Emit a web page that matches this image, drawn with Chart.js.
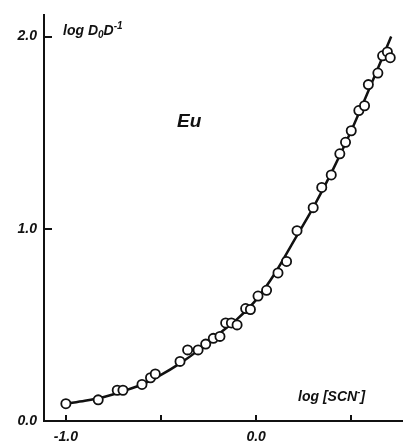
<!DOCTYPE html>
<html>
<head>
<meta charset="utf-8">
<script src="https://cdn.jsdelivr.net/npm/chart.js@4.4.1/dist/chart.umd.min.js"></script>
<style>
  html, body { margin: 0; padding: 0; background: #fff; }
  canvas { display: block; }
</style>
</head>
<body>
<canvas id="eu" width="409" height="444"></canvas>
<script>
// measured points, log[SCN-] vs log D0/D
const logSCN = [-1.0, -0.83, -0.73, -0.70, -0.60, -0.555, -0.53, -0.40, -0.36, -0.305,
  -0.265, -0.225, -0.19, -0.16, -0.13, -0.10, -0.055, -0.03, 0.01, 0.055,
  0.115, 0.16, 0.215, 0.30, 0.345, 0.395, 0.44, 0.47, 0.50, 0.54,
  0.57, 0.59, 0.64, 0.665, 0.69, 0.705];
const logDD = [0.09, 0.11, 0.16, 0.16, 0.19, 0.225, 0.245, 0.31, 0.37, 0.37,
  0.40, 0.43, 0.44, 0.51, 0.51, 0.50, 0.585, 0.58, 0.65, 0.68,
  0.77, 0.83, 0.99, 1.11, 1.215, 1.28, 1.39, 1.45, 1.51, 1.615,
  1.64, 1.75, 1.81, 1.90, 1.92, 1.89];

// fitted curve
const curveX = [-1.0, -0.9, -0.8, -0.7, -0.6, -0.5, -0.4, -0.3, -0.2, -0.1,
  0.0, 0.1, 0.2, 0.3, 0.4, 0.5, 0.6, 0.71];
const curveY = [0.09, 0.105, 0.125, 0.155, 0.19, 0.24, 0.30, 0.37, 0.45, 0.53,
  0.63, 0.77, 0.94, 1.11, 1.30, 1.51, 1.74, 2.0];

const xTicks = [-1.0, -0.5, 0.0, 0.5];
const xLabeled = [-1.0, 0.0];
const yTicks = [0.0, 1.0, 2.0];

const ink = '#111';
const tickFont = { family: '"Liberation Sans", Arial, sans-serif', size: 14, style: 'italic', weight: 'bold' };

function drawParts(ctx, x, y, parts) {
  parts.forEach(p => {
    ctx.font = 'italic bold ' + p.size + 'px "Liberation Sans", Arial, sans-serif';
    ctx.fillText(p.t, x, y + (p.dy || 0));
    x += ctx.measureText(p.t).width + (p.gap || 0);
  });
}

// ticks pointing into the plot, plus the labels inside the frame
const inside = {
  id: 'inside',
  afterDraw(chart) {
    const { ctx, chartArea: a, scales: { x, y } } = chart;
    ctx.save();
    ctx.strokeStyle = ink;
    ctx.lineWidth = 2;
    ctx.beginPath();
    xTicks.forEach(v => {
      const px = Math.round(x.getPixelForValue(v));
      ctx.moveTo(px, a.bottom);
      ctx.lineTo(px, a.bottom - 6);
    });
    yTicks.forEach(v => {
      if (v === 0) return;
      const py = Math.round(y.getPixelForValue(v));
      ctx.moveTo(a.left, py);
      ctx.lineTo(a.left + 8, py);
    });
    ctx.stroke();

    ctx.fillStyle = ink;
    ctx.textBaseline = 'alphabetic';
    ctx.textAlign = 'left';
    drawParts(ctx, 63, 35, [
      { t: 'log D', size: 14 },
      { t: '0', size: 10, dy: 3 },
      { t: 'D', size: 14 },
      { t: '-1', size: 10, dy: -6 }
    ]);
    drawParts(ctx, 177, 127, [{ t: 'Eu', size: 19 }]);
    drawParts(ctx, 298, 401, [
      { t: 'log [SCN', size: 14 },
      { t: '-', size: 10, dy: -6 },
      { t: ']', size: 14 }
    ]);
    ctx.restore();
  }
};

new Chart(document.getElementById('eu'), {
  type: 'scatter',
  data: {
    datasets: [{
      label: 'Eu',
      data: logSCN.map((v, i) => ({ x: v, y: logDD[i] })),
      showLine: false,
      pointRadius: 4.6,
      pointBorderWidth: 1.8,
      pointBackgroundColor: '#fff',
      pointBorderColor: ink,
      order: 0
    }, {
      type: 'line',
      label: 'fit',
      data: curveX.map((v, i) => ({ x: v, y: curveY[i] })),
      borderColor: ink,
      borderWidth: 2.5,
      pointRadius: 0,
      cubicInterpolationMode: 'monotone',
      fill: false,
      order: 1
    }]
  },
  options: {
    responsive: false,
    animation: false,
    events: [],
    layout: { padding: { top: 12, right: 0, left: 0, bottom: 0 } },
    plugins: { legend: { display: false }, tooltip: { enabled: false } },
    scales: {
      x: {
        type: 'linear',
        min: -1.115,
        max: 0.77,
        afterFit: s => { s.height = 23; },
        afterBuildTicks: s => { s.ticks = xTicks.map(v => ({ value: v })); },
        grid: { display: false, drawTicks: false },
        border: { display: true, color: ink, width: 2 },
        ticks: {
          color: ink,
          font: tickFont,
          padding: 8,
          maxRotation: 0,
          autoSkip: false,
          callback: v => xLabeled.includes(v) ? v.toFixed(1) : ''
        }
      },
      y: {
        min: 0,
        max: 2.11,
        afterFit: s => { s.width = 44; },
        afterBuildTicks: s => { s.ticks = yTicks.map(v => ({ value: v })); },
        grid: { display: false, drawTicks: false },
        border: { display: true, color: ink, width: 2 },
        ticks: {
          color: ink,
          font: tickFont,
          padding: 7,
          callback: v => v.toFixed(1)
        }
      }
    }
  },
  plugins: [inside]
});
</script>
</body>
</html>
